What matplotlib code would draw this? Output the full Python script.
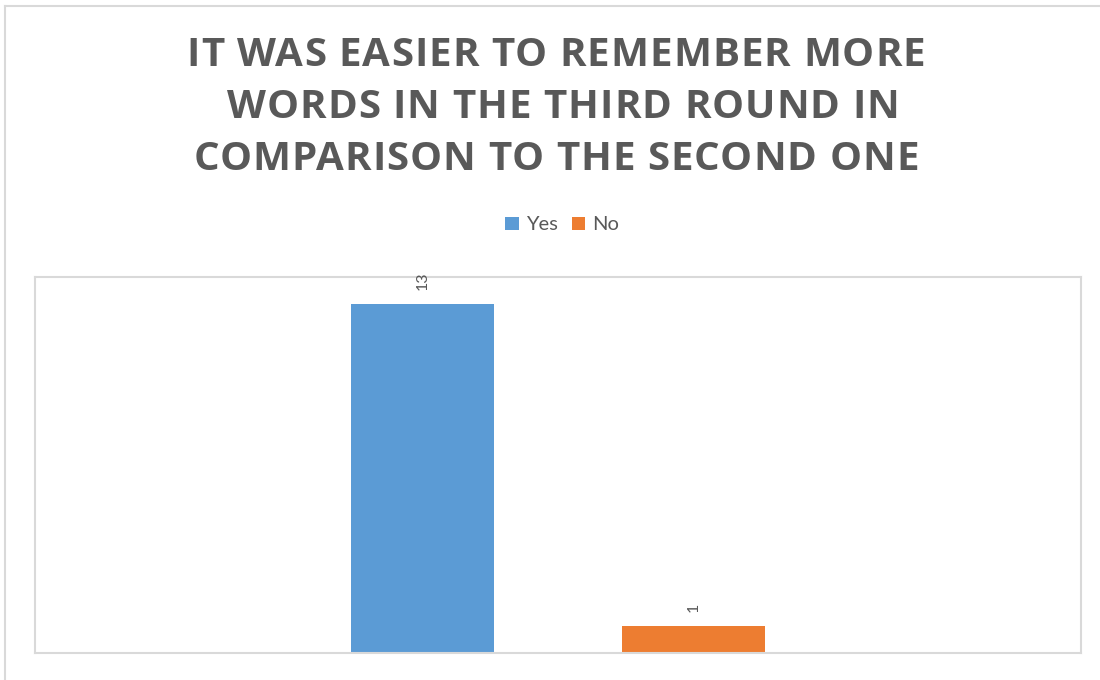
import matplotlib
matplotlib.use("Agg")
import matplotlib.pyplot as plt
from matplotlib.patches import Patch
from matplotlib.lines import Line2D
from matplotlib.font_manager import FontProperties

# Survey answers
title_lines = [
    "IT WAS EASIER TO REMEMBER MORE",
    "WORDS IN THE THIRD ROUND IN",
    "COMPARISON TO THE SECOND ONE",
]
series_names = ["Yes", "No"]
series_values = [13, 1]
series_colors = ["#5B9BD5", "#ED7D31"]

TEXT_GREY = "#595959"
FRAME_GREY = "#D9D9D9"
W, H = 1100, 680

fig = plt.figure(figsize=(W / 100, H / 100), dpi=100)
renderer = fig.canvas.get_renderer()

# outer chart frame (top and left edges visible)
fig.add_artist(Line2D([5 / W, 5 / W], [0, 1 - 6 / H], transform=fig.transFigure,
                      color=FRAME_GREY, lw=1.5))
fig.add_artist(Line2D([5 / W, 1], [1 - 6 / H, 1 - 6 / H], transform=fig.transFigure,
                      color=FRAME_GREY, lw=1.5))

ax = fig.add_axes([35 / W, 27 / H, 1046 / W, 376 / H])
ax.set_ylim(0, 14)
ax.set_xlim(-0.5, 0.5)

offset = 0.1295
width = 0.1367
positions = [-offset, offset]
bars = ax.bar(positions, series_values, width=width, color=series_colors, zorder=2)

for bar, val in zip(bars, series_values):
    ax.annotate(str(val), (bar.get_x() + bar.get_width() / 2, val),
                xytext=(0, 10), textcoords="offset points",
                rotation=90, ha="center", va="bottom",
                fontsize=11.5, color=TEXT_GREY, family="Lato")

ax.set_xticks([])
ax.set_yticks([])
for side in ax.spines.values():
    side.set_color(FRAME_GREY)
    side.set_linewidth(1.5)


def text_width(s, prop):
    w, _, _ = renderer.get_text_width_height_descent(s, prop, ismath=False)
    return w


def tracked_text(line, x_center, y_px, prop, tracking):
    """Draw a centred line of text with extra spacing between letters."""
    lefts = []
    for k, ch in enumerate(line):
        if ch == " ":
            continue
        left = text_width(line[:k + 1], prop) - text_width(ch, prop) + k * tracking
        lefts.append((left, ch))
    total = text_width(line, prop) + (len(line) - 1) * tracking
    x0 = x_center - total / 2
    for left, ch in lefts:
        fig.text((x0 + left) / W, 1 - y_px / H, ch, ha="left", va="center",
                 fontproperties=prop, color=TEXT_GREY)


title_prop = FontProperties(family="Open Sans", weight="bold", size=29)
title_centers = [556, 563, 556]
for i, line in enumerate(title_lines):
    tracked_text(line, title_centers[i], 55 + 52 * i, title_prop, 1.0)

# legend
handles = [Patch(facecolor=c, edgecolor="none", label=n)
           for n, c in zip(series_names, series_colors)]
fig.legend(handles=handles, loc="center", bbox_to_anchor=(562 / W, 1 - 225 / H),
           ncol=2, frameon=False, handlelength=0.65, handleheight=0.65,
           handletextpad=0.35, columnspacing=0.7,
           prop={"family": "Lato", "size": 14.5}, labelcolor=TEXT_GREY)

fig.savefig("out.png", dpi=100, facecolor="white")
